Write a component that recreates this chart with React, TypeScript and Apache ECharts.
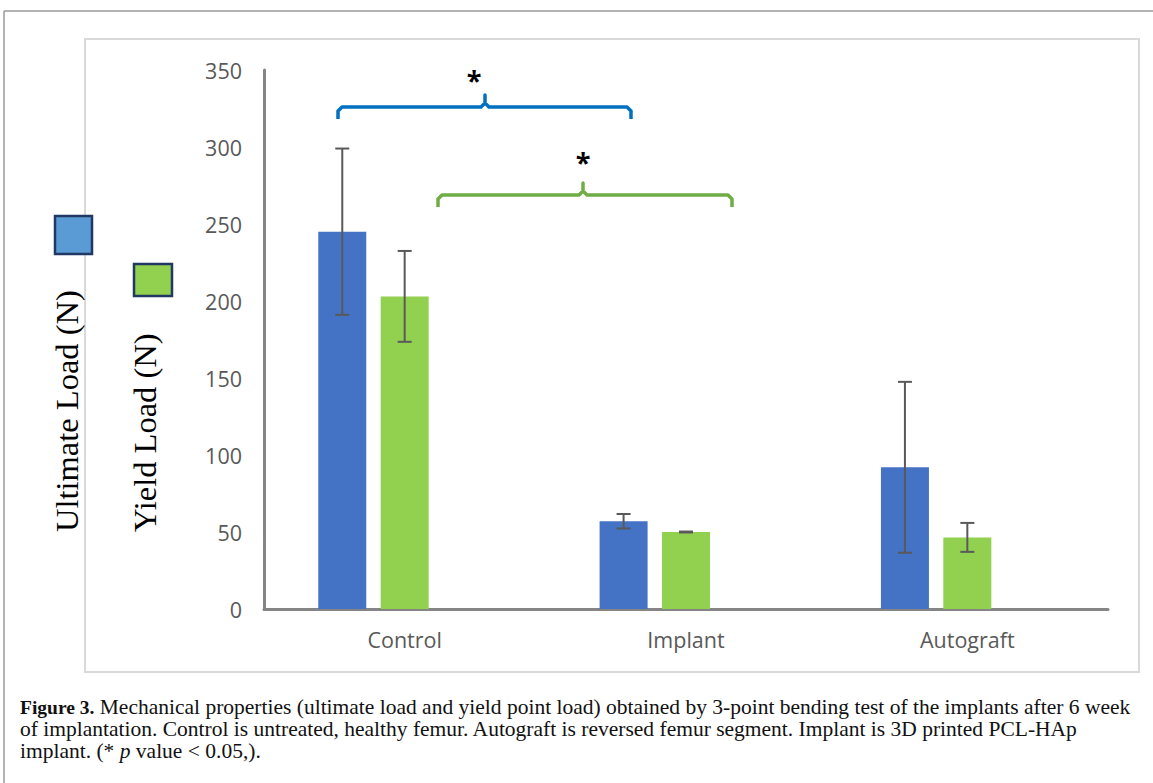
import React, { useEffect, useRef } from "react";
import * as echarts from "echarts";

const categories = ["Control", "Implant", "Autograft"];
const ultimateLoad = [245, 57, 92];
const ultimateErr = [54, 4.7, 55.5];
const yieldLoad = [203, 50, 46.5];
const yieldErr = [29.5, 0.3, 9.4];
const yTicks = { min: 0, max: 350, interval: 50 };

const BAR_W = 48;
const BAR_GAP = 0.3;

export default function App() {
  const ref = useRef<HTMLDivElement>(null);
  useEffect(() => {
    if (!ref.current) return;
    const chart = echarts.init(ref.current, null, { renderer: "svg" });
    const errData = (vals: number[], errs: number[]) =>
      vals.map((v, i) => [i, v - errs[i], v + errs[i]]);
    const offset = -(BAR_W + BAR_W * BAR_GAP);
    const errSeries = (name: string, vals: number[], errs: number[], off: number) => ({
      type: "custom",
      name,
      z: 10,
      data: errData(vals, errs),
      encode: { x: 0, y: [1, 2] },
      renderItem: (params: any, api: any) => {
        const lo = api.coord([api.value(0), api.value(1)]);
        const hi = api.coord([api.value(0), api.value(2)]);
        const x = lo[0] + off;
        const hw = 7;
        const st = { stroke: "#595959", lineWidth: 2 };
        return {
          type: "group",
          children: [
            { type: "line", shape: { x1: x, y1: lo[1], x2: x, y2: hi[1] }, style: st },
            { type: "line", shape: { x1: x - hw, y1: lo[1], x2: x + hw, y2: lo[1] }, style: st },
            { type: "line", shape: { x1: x - hw, y1: hi[1], x2: x + hw, y2: hi[1] }, style: st },
          ],
        };
      },
    });
    const captionFont = "'Liberation Serif', 'Times New Roman', serif";
    const capSize = 21.5;
    const axisFont = "'Open Sans', sans-serif";
    chart.setOption({
      animation: false,
      grid: { left: 264, right: 45, top: 70, bottom: 174 },
      xAxis: {
        type: "category",
        data: categories,
        axisLine: { lineStyle: { color: "#858585", width: 3 } },
        axisTick: { show: false },
        axisLabel: { color: "#595959", fontSize: 21.5, fontFamily: axisFont, margin: 19 },
      },
      yAxis: {
        type: "value",
        min: yTicks.min,
        max: yTicks.max,
        interval: yTicks.interval,
        axisLine: { show: true, lineStyle: { color: "#858585", width: 3 } },
        axisTick: { show: false },
        splitLine: { show: false },
        axisLabel: { color: "#595959", fontSize: 21.5, fontFamily: axisFont, margin: 22 },
      },
      series: [
        { type: "bar", name: "Ultimate Load (N)", data: ultimateLoad, barWidth: BAR_W, barGap: `${BAR_GAP * 100}%`, itemStyle: { color: "#4472C4" } },
        { type: "bar", name: "Yield Load (N)", data: yieldLoad, barWidth: BAR_W, barGap: `${BAR_GAP * 100}%`, itemStyle: { color: "#92D050" } },
        { type: "bar", name: "", data: [null, null, null], barWidth: BAR_W, barGap: `${BAR_GAP * 100}%` },
        errSeries("ultErr", ultimateLoad, ultimateErr, offset),
        errSeries("yldErr", yieldLoad, yieldErr, 0),
      ],
      graphic: [
        { type: "line", shape: { x1: 4, y1: 11, x2: 1153, y2: 11 }, style: { stroke: "#9a9a9a", lineWidth: 1.5 } },
        { type: "line", shape: { x1: 4, y1: 11, x2: 4, y2: 783 }, style: { stroke: "#9a9a9a", lineWidth: 1.5 } },
        { type: "rect", shape: { x: 85, y: 39, width: 1054, height: 633 }, style: { stroke: "#d9d9d9", lineWidth: 2, fill: "none" } },
        {
          type: "polyline",
          shape: { points: [[338, 119], [338, 111], [342, 107], [481, 107], [485, 103], [485, 95], [485, 103], [489, 107], [627, 107], [631, 111], [631, 119]] },
          style: { stroke: "#0070C0", lineWidth: 3.5, fill: "none", lineJoin: "round" },
        },
        {
          type: "polyline",
          shape: { points: [[438, 207], [438, 199], [442, 195], [579, 195], [583, 191], [583, 183], [583, 191], [587, 195], [728, 195], [732, 199], [732, 207]] },
          style: { stroke: "#70AD47", lineWidth: 3.5, fill: "none", lineJoin: "round" },
        },
        { type: "text", x: 474, y: 79, style: { text: "*", fontSize: 27, fontWeight: "bold", fill: "#000", align: "center", verticalAlign: "middle", fontFamily: axisFont } },
        { type: "text", x: 583, y: 161, style: { text: "*", fontSize: 27, fontWeight: "bold", fill: "#000", align: "center", verticalAlign: "middle", fontFamily: axisFont } },
        { type: "rect", shape: { x: 55, y: 216, width: 37, height: 38 }, style: { fill: "#5B9BD5", stroke: "#203864", lineWidth: 2.5 } },
        { type: "rect", shape: { x: 134, y: 264, width: 38, height: 32 }, style: { fill: "#92D050", stroke: "#203864", lineWidth: 2.5 } },
        {
          type: "text", x: 67, y: 532, rotation: Math.PI / 2,
          style: { text: "Ultimate Load (N)", fontSize: 32.5, fill: "#000", align: "left", verticalAlign: "middle", fontFamily: captionFont },
        },
        {
          type: "text", x: 145, y: 532, rotation: Math.PI / 2,
          style: { text: "Yield Load (N)", fontSize: 32.5, fill: "#000", align: "left", verticalAlign: "middle", fontFamily: captionFont },
        },
        {
          type: "text", x: 20, y: 707,
          style: {
            text: "{b|Figure 3.} Mechanical properties (ultimate load and yield point load) obtained by 3-point bending test of the implants after 6 week",
            fontSize: capSize, fill: "#111", verticalAlign: "middle", fontFamily: captionFont,
            rich: { b: { fontWeight: "bold", fontSize: 19.5, fontFamily: captionFont, fill: "#111" } },
          },
        },
        {
          type: "text", x: 20, y: 729,
          style: {
            text: "of implantation. Control is untreated, healthy femur. Autograft is reversed femur segment. Implant is 3D printed PCL-HAp",
            fontSize: capSize, fill: "#111", verticalAlign: "middle", fontFamily: captionFont,
          },
        },
        {
          type: "text", x: 20, y: 751,
          style: {
            text: "implant. (* {i|p} value < 0.05,).",
            fontSize: capSize, fill: "#111", verticalAlign: "middle", fontFamily: captionFont,
            rich: { i: { fontStyle: "italic", fontSize: capSize, fontFamily: captionFont, fill: "#111" } },
          },
        },
      ],
    });
    return () => chart.dispose();
  }, []);
  return <div ref={ref} style={{ position: "absolute", left: 0, top: 0, width: 1153, height: 783, background: "#fff" }} />;
}
